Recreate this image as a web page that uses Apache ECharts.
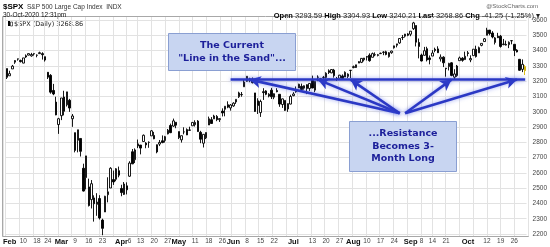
<!DOCTYPE html>
<html><head><meta charset="utf-8">
<script src="https://cdn.jsdelivr.net/npm/echarts@6/dist/echarts.min.js"></script>
<style>html,body{margin:0;padding:0;background:#fff}#c{width:550px;height:247px}</style>
</head><body><div id="c"></div>
<script>
// ---------- DATA (2020 trading days, MM-DD) ----------
const dates = ['01-31',
'02-03','02-04','02-05','02-06','02-07','02-10','02-11','02-12','02-13','02-14','02-18','02-19','02-20','02-21','02-24','02-25','02-26','02-27','02-28',
'03-02','03-03','03-04','03-05','03-06','03-09','03-10','03-11','03-12','03-13','03-16','03-17','03-18','03-19','03-20','03-23','03-24','03-25','03-26','03-27','03-30','03-31',
'04-01','04-02','04-03','04-06','04-07','04-08','04-09','04-13','04-14','04-15','04-16','04-17','04-20','04-21','04-22','04-23','04-24','04-27','04-28','04-29','04-30',
'05-01','05-04','05-05','05-06','05-07','05-08','05-11','05-12','05-13','05-14','05-15','05-18','05-19','05-20','05-21','05-22','05-26','05-27','05-28','05-29',
'06-01','06-02','06-03','06-04','06-05','06-08','06-09','06-10','06-11','06-12','06-15','06-16','06-17','06-18','06-19','06-22','06-23','06-24','06-25','06-26','06-29','06-30',
'07-01','07-02','07-06','07-07','07-08','07-09','07-10','07-13','07-14','07-15','07-16','07-17','07-20','07-21','07-22','07-23','07-24','07-27','07-28','07-29','07-30','07-31',
'08-03','08-04','08-05','08-06','08-07','08-10','08-11','08-12','08-13','08-14','08-17','08-18','08-19','08-20','08-21','08-24','08-25','08-26','08-27','08-28','08-31',
'09-01','09-02','09-03','09-04','09-08','09-09','09-10','09-11','09-14','09-15','09-16','09-17','09-18','09-21','09-22','09-23','09-24','09-25','09-28','09-29','09-30',
'10-01','10-02','10-05','10-06','10-07','10-08','10-09','10-12','10-13','10-14','10-15','10-16','10-19','10-20','10-21','10-22','10-23','10-26','10-27','10-28','10-29','10-30'];

const opens = [3282,
3235,3280,3324,3344,3335,3318,3366,3370,3365,3378,3369,3380,3380,3360,3258,3238,3139,3063,2916,
2974,3096,3045,3075,2954,2863,2813,2825,2630,2569,2508,2425,2436,2394,2432,2291,2344,2457,2501,2556,2558,2614,
2498,2459,2515,2578,2738,2686,2776,2782,2805,2795,2799,2842,2845,2784,2788,2810,2812,2855,2910,2906,2931,
2870,2816,2868,2883,2878,2908,2915,2939,2865,2794,2829,2913,2948,2953,2969,2948,3004,3016,3046,3025,
3038,3064,3098,3111,3163,3199,3213,3213,3123,3071,2994,3131,3136,3102,3141,3095,3138,3114,3047,3074,3018,3050,
3105,3143,3155,3166,3154,3177,3152,3205,3141,3225,3208,3224,3224,3268,3254,3272,3218,3219,3234,3227,3231,3270,
3289,3289,3318,3323,3340,3357,3370,3356,3372,3368,3380,3388,3392,3360,3386,3418,3435,3450,3486,3494,3509,
3507,3543,3564,3453,3371,3369,3412,3352,3364,3408,3411,3346,3357,3285,3295,3320,3226,3236,3334,3350,3341,
3385,3339,3367,3408,3385,3434,3459,3500,3534,3515,3453,3494,3494,3439,3440,3439,3464,3441,3403,3343,3277,3294];

const closes = [3225,
3249,3298,3335,3346,3328,3352,3358,3380,3374,3380,3370,3386,3373,3338,3226,3128,3116,2979,2954,
3090,3003,3130,3024,2972,2747,2882,2741,2481,2711,2386,2529,2398,2409,2305,2237,2447,2476,2630,2541,2627,2585,
2471,2527,2489,2664,2659,2750,2790,2762,2846,2783,2800,2875,2823,2737,2799,2798,2837,2879,2863,2940,2912,
2831,2843,2868,2848,2881,2930,2930,2870,2820,2852,2864,2954,2923,2972,2948,2955,2992,3036,3030,3044,
3056,3081,3123,3113,3194,3232,3207,3190,3002,3041,3067,3125,3114,3115,3098,3118,3131,3050,3084,3009,3053,3100,
3116,3130,3180,3145,3170,3152,3185,3155,3198,3227,3216,3225,3252,3257,3276,3236,3216,3239,3218,3258,3246,3271,
3295,3307,3328,3349,3351,3361,3334,3380,3373,3373,3382,3390,3375,3386,3397,3431,3444,3479,3485,3508,3500,
3527,3581,3455,3427,3332,3399,3339,3341,3384,3401,3386,3357,3320,3281,3316,3237,3247,3299,3352,3336,3363,
3381,3348,3409,3361,3419,3447,3477,3534,3512,3489,3483,3484,3427,3443,3436,3454,3465,3401,3391,3271,3310,3269];

const lows = [3214,
3235,3280,3313,3334,3322,3317,3352,3369,3360,3367,3356,3378,3341,3328,3214,3118,3108,2977,2855,
2945,2976,3034,2999,2901,2734,2734,2707,2478,2492,2380,2367,2281,2319,2295,2192,2344,2407,2501,2521,2545,2571,
2447,2455,2459,2574,2657,2664,2762,2721,2805,2761,2764,2842,2820,2728,2775,2794,2798,2852,2860,2901,2892,
2821,2798,2852,2847,2876,2908,2903,2869,2794,2766,2821,2913,2922,2953,2938,2933,2969,2970,3023,3007,
3032,3051,3090,3098,3163,3196,3193,3185,2999,2985,2966,3077,3108,3094,3083,3082,3127,3032,3025,3005,2999,3048,
3101,3124,3155,3142,3144,3115,3136,3154,3128,3200,3199,3209,3216,3247,3252,3223,3201,3219,3216,3227,3220,3220,
3284,3286,3318,3318,3329,3335,3327,3356,3363,3362,3379,3370,3369,3354,3379,3413,3421,3444,3469,3485,3494,
3494,3535,3427,3349,3329,3367,3329,3310,3364,3389,3384,3328,3292,3229,3270,3232,3209,3228,3334,3327,3340,
3362,3324,3367,3354,3385,3428,3458,3500,3500,3480,3440,3482,3419,3435,3433,3416,3441,3364,3388,3268,3259,3240];

const highs = [3282,
3268,3306,3337,3347,3341,3352,3375,3381,3385,3381,3375,3393,3389,3360,3259,3246,3182,3098,2960,
3090,3137,3130,3084,2985,2863,2882,2825,2660,2711,2562,2553,2453,2467,2454,2300,2450,2571,2637,2615,2631,2641,
2522,2540,2538,2676,2756,2760,2818,2782,2851,2801,2806,2880,2868,2785,2815,2845,2842,2887,2922,2955,2931,
2870,2844,2898,2891,2902,2932,2944,2945,2875,2853,2865,2968,2965,2980,2978,2957,3022,3036,3068,3050,
3062,3081,3131,3129,3211,3233,3222,3224,3123,3088,3079,3154,3141,3121,3156,3120,3154,3115,3086,3074,3054,3111,
3128,3165,3183,3184,3172,3179,3187,3236,3200,3238,3221,3234,3258,3277,3279,3280,3227,3241,3244,3264,3251,3272,
3302,3307,3331,3351,3352,3364,3382,3387,3388,3378,3387,3396,3399,3390,3399,3432,3444,3479,3502,3509,3514,
3528,3588,3564,3479,3380,3424,3425,3368,3403,3419,3428,3375,3363,3286,3320,3324,3278,3306,3361,3357,3393,
3397,3369,3409,3432,3426,3447,3482,3549,3534,3527,3489,3516,3502,3476,3465,3460,3466,3441,3409,3342,3342,3305];

const monthLabelDates = ['02-03','03-02','04-01','05-01','06-01','07-01','08-03','09-01','10-01'];
const monthNames      = ['Feb','Mar','Apr','May','Jun','Jul','Aug','Sep','Oct'];
const dayLabelDates = ['02-10','02-18','02-24','03-09','03-16','03-23','04-06','04-13','04-20','04-27',
  '05-11','05-18','05-26','06-08','06-15','06-22','07-13','07-20','07-27','08-10','08-17','08-24',
  '09-08','09-14','09-21','10-12','10-19','10-26'];

const yMin = 2200, yMax = 3600, yStep = 100;
const lineInSand = 3210;
const lineStart = '05-29';
const arrowOrigins = [['08-26', 2990], ['08-26', 2990], ['08-26', 2990], ['08-28', 2990], ['08-28', 2990]];
const arrowTargets = ['06-09', '07-15', '07-31', '09-23', '10-27'];

// ---------- helpers ----------
const weekStart = new Set();
for (let i = 0; i < dates.length; i++) {
  const d = new Date('2020-' + dates[i] + 'T12:00:00');
  if (i === 0) { weekStart.add(i); continue; }
  const p = new Date('2020-' + dates[i - 1] + 'T12:00:00');
  if (d.getDay() <= p.getDay() || (d - p) > 4 * 86400000) weekStart.add(i);
}
const labelMap = {};
monthLabelDates.forEach((d, i) => labelMap[d] = '{m|' + monthNames[i] + '}');
dayLabelDates.forEach(d => labelMap[d] = '{d|' + String(parseInt(d.slice(3), 10)) + '}');

const candles = dates.map((d, i) => [opens[i], closes[i], lows[i], highs[i]]);
const lastIdx = candles.length - 1;
const candleData = candles.map((c, i) => i === lastIdx
  ? { value: c, itemStyle: { color0: '#3a3300', borderColor0: '#d6b400', borderColor: '#d6b400' } }
  : c);

const blue = '#2b38c4';
const arrowLines = arrowTargets.map((t, i) => [
  { coord: arrowOrigins[i], symbol: 'none' },
  { coord: [t, lineInSand], symbol: 'arrow', symbolSize: [9, 11] }
]);
const sandLine = [
  { coord: [lineStart, lineInSand], symbol: 'none' },
  { coord: [dates[lastIdx], lineInSand], symbol: 'none' }
];

const FONT = 'Liberation Sans, Arial, sans-serif';
const chart = echarts.init(document.getElementById('c'), null, { renderer: 'canvas' });
chart.setOption({
  animation: false,
  backgroundColor: '#fff',
  grid: [
    { left: 3, right: 22, top: 20, bottom: 13 },
    { left: 3, right: 22, top: 17, bottom: 11 }
  ],
  xAxis: [
    { type: 'category', data: dates, gridIndex: 0, boundaryGap: true,
      axisLine: { show: false }, axisTick: { show: false }, splitLine: { show: false },
      axisLabel: {
        show: true, margin: 4, hideOverlap: false,
        interval: (idx, val) => labelMap[val] !== undefined,
        formatter: (val) => labelMap[val] || '',
        rich: {
          m: { fontFamily: FONT, fontSize: 7.5, fontWeight: 'bold', color: '#111' },
          d: { fontFamily: FONT, fontSize: 6.5, color: '#444' }
        }
      } },
    { type: 'category', data: dates, gridIndex: 1, boundaryGap: true,
      axisLine: { show: false }, axisTick: { show: false }, axisLabel: { show: false },
      splitLine: { show: true, interval: (idx) => weekStart.has(idx), lineStyle: { color: '#e2e2e2', width: 1 } } }
  ],
  yAxis: [
    { type: 'value', gridIndex: 0, position: 'right', min: yMin, max: yMax, interval: yStep,
      axisLine: { show: false }, axisTick: { show: false },
      axisLabel: { margin: 6, fontFamily: FONT, fontSize: 6.5, color: '#444', formatter: (v) => String(v) },
      splitLine: { show: true, lineStyle: { color: '#e2e2e2', width: 1 } } },
    { type: 'value', gridIndex: 1, show: false, min: 0, max: 1 }
  ],
  series: [{
    type: 'candlestick', xAxisIndex: 0, yAxisIndex: 0, data: candleData, clip: false,
    barWidth: 2,
    itemStyle: { color: '#ffffff', color0: '#000000', borderColor: '#000000', borderColor0: '#000000', borderWidth: 0.9 },
    markLine: {
      silent: true, animation: false, symbol: ['none', 'arrow'],
      label: { show: false },
      lineStyle: { color: blue, width: 2.6, type: 'solid', shadowBlur: 4, shadowColor: 'rgba(70,90,230,0.55)' },
      data: arrowLines.concat([sandLine])
    }
  }],
  graphic: [
    { type: 'rect', shape: { x: 2.5, y: 16.5, width: 526, height: 220 }, style: { fill: 'none', stroke: '#a8a8a8', lineWidth: 1 }, z: 0 },
    { type: 'text', x: 3, y: 3, style: { text: '$SPX', font: 'bold 8px ' + FONT, fill: '#000' } },
    { type: 'text', x: 27, y: 4, style: { text: 'S&P 500 Large Cap Index  INDX', font: '6.5px ' + FONT, fill: '#333' } },
    { type: 'text', x: 3, y: 11.5, style: { text: '30-Oct-2020 12:31pm', font: '6.5px ' + FONT, fill: '#111' } },
    { type: 'rect', shape: { x: 8, y: 21, width: 2, height: 5 }, style: { fill: '#000' } },
    { type: 'rect', shape: { x: 10.5, y: 22, width: 2, height: 4 }, style: { fill: '#fff', stroke: '#000', lineWidth: 0.6 } },
    { type: 'text', x: 14, y: 21, style: { text: '$SPX (Daily) 3268.86', font: '6.5px DejaVu Sans, sans-serif', fill: '#222' } },
    { type: 'text', x: 538, y: 3, style: { text: '@StockCharts.com', font: '6px ' + FONT, fill: '#666', align: 'right' } },
    { type: 'text', x: 540, y: 12, style: {
        text: '{b|Open} 3293.59 {b|High} 3304.93 {b|Low} 3240.21 {b|Last} 3268.86 {b|Chg} -41.25 (-1.25%) ▾',
        font: '7.5px ' + FONT, fill: '#222', align: 'right',
        rich: { b: { font: 'bold 7.5px ' + FONT, fill: '#000' } } } },
    { type: 'rect', shape: { x: 168.5, y: 33.5, width: 127, height: 37 }, style: { fill: '#c8d5f1', stroke: '#8a9fd2', lineWidth: 1 }, z: 10 },
    { type: 'text', x: 232, y: 52, z: 11, style: { text: 'The Current\n"Line in the Sand"...', font: 'bold 9.5px DejaVu Sans, sans-serif', fill: '#1c1f9a', align: 'center', verticalAlign: 'middle', lineHeight: 13 } },
    { type: 'rect', shape: { x: 349.5, y: 121.5, width: 107, height: 50 }, style: { fill: '#c8d5f1', stroke: '#8a9fd2', lineWidth: 1 }, z: 10 },
    { type: 'text', x: 403, y: 146.5, z: 11, style: { text: '...Resistance\nBecomes 3-\nMonth Long', font: 'bold 9.5px DejaVu Sans, sans-serif', fill: '#1c1f9a', align: 'center', verticalAlign: 'middle', lineHeight: 12.5 } }
  ]
});
</script>
</body></html>
